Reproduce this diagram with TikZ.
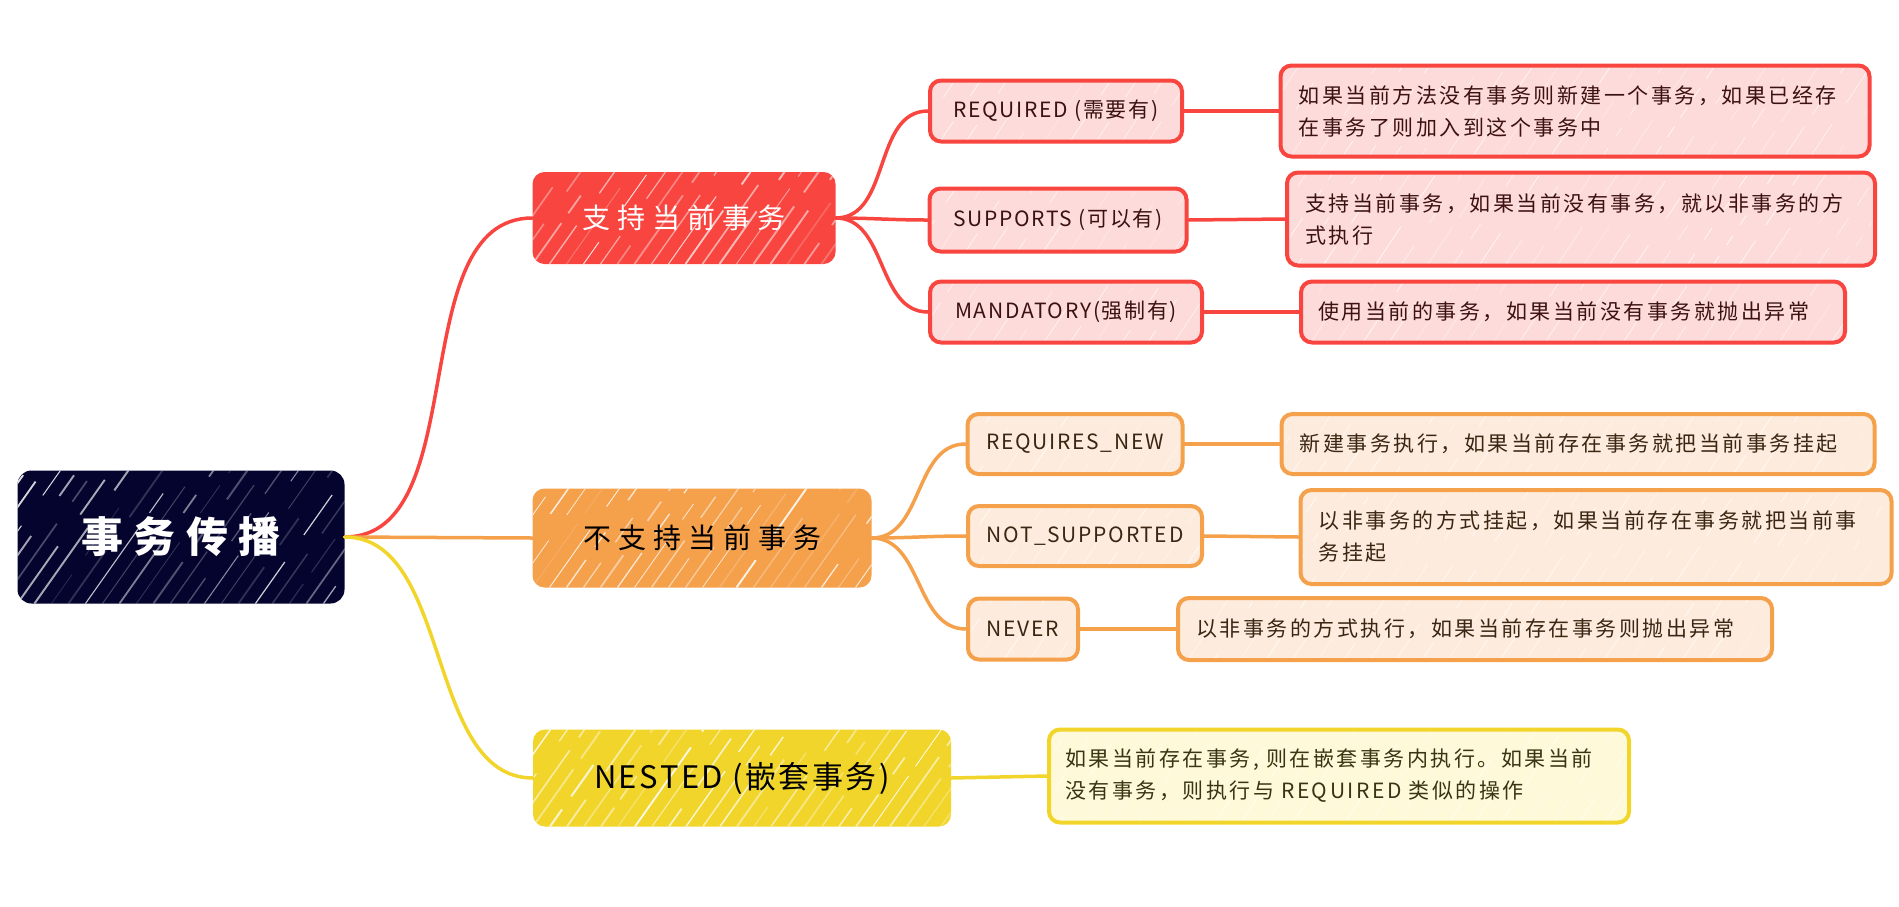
\documentclass[tikz,border=0pt]{standalone}
\usepackage{fontspec}
\setmainfont{Noto Sans CJK SC}
\newfontfamily\cjkroot[LetterSpace=25]{Noto Sans CJK SC}
\newfontfamily\cjkmain[LetterSpace=25]{Noto Sans CJK SC}
\newfontfamily\cjknest[LetterSpace=8]{Noto Sans CJK SC}
\newfontfamily\cjkchild[LetterSpace=8]{Noto Sans CJK SC}
\newfontfamily\cjkdesc[LetterSpace=12]{Noto Sans CJK SC}
\definecolor{rootc}{HTML}{04042F}
\definecolor{redc}{HTML}{F8453F}
\definecolor{redl}{HTML}{FDDBDA}
\definecolor{redt}{HTML}{3C1111}
\definecolor{orac}{HTML}{F5A04B}
\definecolor{oral}{HTML}{FDEBDD}
\definecolor{orat}{HTML}{3A2612}
\definecolor{yelc}{HTML}{F2D52B}
\definecolor{yell}{HTML}{FEF9D8}
\definecolor{yelt}{HTML}{3B3413}
\tikzset{
  hatch/.style={path picture={
    \foreach \i in {-170,-153,...,440}{
      \pgfmathsetmacro\op{0.15+0.75*rnd}
      \pgfmathsetmacro\da{20+80*rnd}
      \pgfmathsetmacro\db{10+40*rnd}
      \pgfmathsetmacro\dc{15+60*rnd}
      \pgfmathsetmacro\dd{10+50*rnd}
      \pgfmathsetmacro\lw{0.8+1.2*rnd}
      \draw[white, opacity=\op, line width=\lw pt, dash pattern=on \da pt off \db pt on \dc pt off \dd pt]
        ([xshift=\i pt]path picture bounding box.south west) -- ++(120pt,170pt);
    }}},
  lhatch/.style={path picture={
    \foreach \i in {-120,-94,...,620}{
      \pgfmathsetmacro\op{0.25+0.5*rnd}
      \pgfmathsetmacro\da{8+40*rnd}
      \pgfmathsetmacro\db{10+30*rnd}
      \draw[white, opacity=\op, line width=0.9pt, dash pattern=on \da pt off \db pt]
        ([xshift=\i pt]path picture bounding box.south west) -- ++(80pt,120pt);
    }}},
  rootbox/.style={rounded corners=14pt, fill=rootc, text=white, inner sep=0pt,
    font=\fontsize{42pt}{48pt}\cjkroot\bfseries, hatch},
  mainbox/.style={rounded corners=12pt, inner sep=0pt, font=\fontsize{28pt}{34pt}\cjkmain, hatch},
  childbox/.style={rounded corners=11pt, line width=4pt, inner sep=0pt,
    font=\fontsize{21pt}{26pt}\cjkchild, lhatch},
  descbox/.style={childbox, font=\fontsize{21pt}{32pt}\cjkdesc, align=left},
  redchild/.style={draw=redc, fill=redl, text=redt},
  orachild/.style={draw=orac, fill=oral, text=orat},
  yelchild/.style={draw=yelc, fill=yell, text=yelt},
  conn/.style={line width=3.5pt, line cap=round},
}
\begin{document}
\begin{tikzpicture}[x=1pt,y=-1pt]
\pgfmathsetseed{7}
\useasboundingbox (0,0) rectangle (1899,906);
% root
\node[rootbox, minimum width=327pt, minimum height=133pt] (root) at (181,537) {事务传播};
% main topics
\node[mainbox, fill=redc, text=white, minimum width=303pt, minimum height=92pt] (rm) at (684,218) {支持当前事务};
\node[mainbox, fill=orac, text=black, minimum width=339pt, minimum height=99pt] (om) at (702,538) {不支持当前事务};
\node[mainbox, fill=yelc, text=black, minimum width=418pt, minimum height=97pt,
  font=\fontsize{31pt}{36pt}\cjknest] (ym) at (742,778) {NESTED (嵌套事务)};
% red children
\node[childbox, redchild, minimum width=252pt, minimum height=61pt] (r1) at (1056,111) {REQUIRED (需要有)};
\node[childbox, redchild, minimum width=257pt, minimum height=63pt] (r2) at (1058,220) {SUPPORTS (可以有)};
\node[childbox, redchild, minimum width=272pt, minimum height=61pt] (r3) at (1066,312) {MANDATORY(强制有)};
\node[descbox, redchild, minimum width=589pt, text width=553pt, minimum height=91pt] (rd1) at (1575,111)
  {如果当前方法没有事务则新建一个事务，如果已经存\\在事务了则加入到这个事务中};
\node[descbox, redchild, minimum width=588pt, text width=552pt, minimum height=93pt] (rd2) at (1581,219)
  {支持当前事务，如果当前没有事务，就以非事务的方\\式执行};
\node[descbox, redchild, minimum width=544pt, text width=510pt, minimum height=61pt] (rd3) at (1573,312)
  {使用当前的事务，如果当前没有事务就抛出异常};
% orange children
\node[childbox, orachild, minimum width=215pt, minimum height=60pt] (o1) at (1075,444) {REQUIRES\_NEW};
\node[childbox, orachild, minimum width=234pt, minimum height=60pt] (o2) at (1085,536) {NOT\_SUPPORTED};
\node[childbox, orachild, minimum width=110pt, minimum height=61pt] (o3) at (1023,629) {NEVER};
\node[descbox, orachild, minimum width=593pt, text width=557pt, minimum height=60pt] (od1) at (1578,444)
  {新建事务执行，如果当前存在事务就把当前事务挂起};
\node[descbox, orachild, minimum width=591pt, text width=555pt, minimum height=94pt] (od2) at (1596,537)
  {以非事务的方式挂起，如果当前存在事务就把当前事\\务挂起};
\node[descbox, orachild, minimum width=594pt, text width=558pt, minimum height=62pt] (od3) at (1475,629)
  {以非事务的方式执行，如果当前存在事务则抛出异常};
% yellow child
\node[descbox, yelchild, minimum width=580pt, text width=548pt, minimum height=93pt] (yd) at (1339,776)
  {如果当前存在事务, 则在嵌套事务内执行。如果当前\\没有事务，则执行与 REQUIRED 类似的操作};
% connectors
\draw[conn, redc] (root.east) to[out=0,in=180,looseness=0.9] (rm.west);
\draw[conn, orac] (root.east) -- (om.west);
\draw[conn, yelc] (root.east) to[out=0,in=180,looseness=0.9] (ym.west);
\draw[conn, redc] (rm.east) to[out=0,in=180] (r1.west);
\draw[conn, redc] (rm.east) to[out=0,in=180] (r2.west);
\draw[conn, redc] (rm.east) to[out=0,in=180] (r3.west);
\draw[conn, redc] (r1.east) -- (rd1.west);
\draw[conn, redc] (r2.east) -- (rd2.west);
\draw[conn, redc] (r3.east) -- (rd3.west);
\draw[conn, orac] (om.east) to[out=0,in=180] (o1.west);
\draw[conn, orac] (om.east) to[out=0,in=180] (o2.west);
\draw[conn, orac] (om.east) to[out=0,in=180] (o3.west);
\draw[conn, orac] (o1.east) -- (od1.west);
\draw[conn, orac] (o2.east) -- (od2.west);
\draw[conn, orac] (o3.east) -- (od3.west);
\draw[conn, yelc] (ym.east) -- (yd.west);
\end{tikzpicture}
\end{document}
